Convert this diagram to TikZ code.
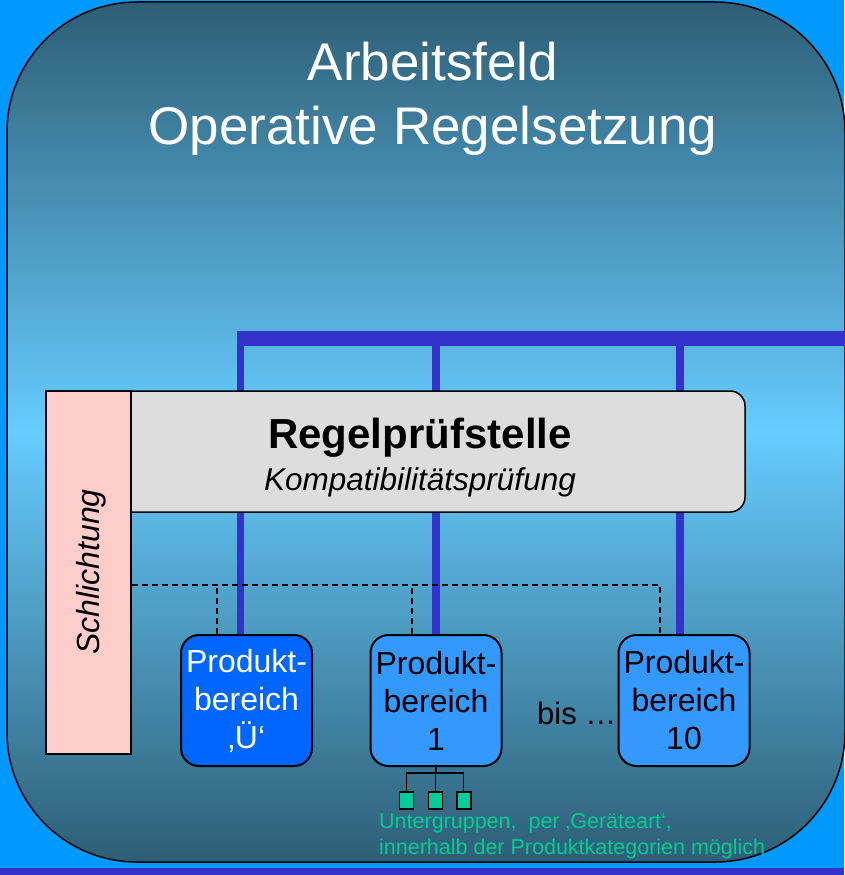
\documentclass[tikz,border=0pt]{standalone}
\usepackage{fontspec}
\setmainfont{Liberation Sans}
\usepackage{tikz}
\usetikzlibrary{calc}
\definecolor{skyblue}{HTML}{0099FF}
\definecolor{busblue}{HTML}{3333CC}
\definecolor{feldtop}{HTML}{2E5E75}
\definecolor{feldmid}{HTML}{66CCFF}
\definecolor{regelgray}{HTML}{DDDDDD}
\definecolor{schlichtpink}{HTML}{FFCCCC}
\definecolor{pbdark}{HTML}{0066FF}
\definecolor{pblight}{HTML}{3399FF}
\definecolor{grpgreen}{HTML}{00CC99}

\begin{document}
\begin{tikzpicture}[x=1pt,y=-1pt,
  bus/.style={draw=busblue, line width=15pt},
  drop/.style={draw=busblue, line width=7.5pt},
  dashline/.style={dash pattern=on 6pt off 4pt, line width=1.2pt},
  pbox/.style={draw=black, line width=2pt, rounded corners=18pt, minimum width=131pt,
    minimum height=131pt, inner sep=0pt, align=center, font=\fontsize{32}{38}\selectfont},
  grp/.style={draw=black, line width=1.5pt, fill=grpgreen, minimum width=14pt,
    minimum height=17pt, inner sep=0pt}]
\useasboundingbox (0,0) rectangle (844,875);
\fill[skyblue] (0,0) rectangle (844,875);
\fill[busblue] (0,868) rectangle (844,875);
% Arbeitsfeld
\draw[line width=1.5pt, rounded corners=130pt, top color=feldtop, bottom color=feldtop,
  middle color=feldmid] (7,2) rectangle (845,862);
\node[text=white, align=center, font=\fontsize{53}{64}\selectfont] (titel) at (433,99)
  {Arbeitsfeld\\Operative Regelsetzung};
% Produktbereiche
\node[pbox, fill=pbdark, text=white] (pbU) at (246.5,700.5) {Produkt-\\bereich\\‚Ü‘};
\node[pbox, fill=pblight] (pb1) at (436,700.5) {Produkt-\\bereich\\1};
\node[pbox, fill=pblight] (pb10) at (684,700.5) {Produkt-\\bereich\\10};
\node[anchor=base west, font=\fontsize{31}{38}\selectfont, inner sep=0pt] (bis) at (537,724) {bis …};
% Bus
\coordinate (busL) at (237,338);
\coordinate (busR) at (847,338);
\draw[drop] ([xshift=-6pt]pbU.north) -- ([xshift=-6pt]pbU.north |- busL);
\draw[drop] (pb1.north) -- (pb1.north |- busL);
\draw[drop] ([xshift=-4pt]pb10.north) -- ([xshift=-4pt]pb10.north |- busL);
\draw[bus] (busL) -- (busR);
% Regelpruefstelle und Schlichtung
\node[draw=black, line width=1.5pt, fill=regelgray, rounded corners=15pt, minimum width=645pt,
  minimum height=121pt] (regel) at (422.5,451.5) {};
\node[anchor=base, font=\fontsize{42}{50}\selectfont\bfseries, inner sep=0pt] (regeltxt)
  at (420,448) {Regelprüfstelle};
\node[anchor=base, font=\fontsize{31.5}{38}\selectfont\itshape, inner sep=0pt] (kompat)
  at (420,490) {Kompatibilitätsprüfung};
\node[draw=black, line width=1.5pt, fill=schlichtpink, minimum width=85pt, minimum height=363pt,
  inner sep=0pt] (schlicht) at (88.5,572.5) {};
\node[rotate=90, font=\fontsize{32}{38}\selectfont\itshape] (schlichttxt) at (91.5,572) {Schlichtung};
% Schlichtungswege
\coordinate (dash) at (schlicht.east |- 0,585);
\draw[dashline] (dash) -| ([xshift=-24pt]pb10.north);
\draw[dashline] ([xshift=-29.5pt]pbU.north) -- ([xshift=-29.5pt]pbU.north |- dash);
\draw[dashline] ([xshift=-24pt]pb1.north) -- ([xshift=-24pt]pb1.north |- dash);
% Untergruppen
\node[grp] (grpA) at (406.7,800.5) {};
\node[grp] (grpB) at (435.3,800.5) {};
\node[grp] (grpC) at (463.8,800.5) {};
\coordinate (fork) at (pb1.south |- 0,773);
\draw[line width=1.3pt] (pb1.south) -- (fork);
\draw[line width=1.3pt] (grpA.north) |- (fork) -| (grpC.north);
\draw[line width=1.3pt] (grpB.north) -- (grpB.north |- fork);
\node[anchor=north west, align=left, text=grpgreen, font=\fontsize{21.5}{26}\selectfont, inner sep=0pt]
  (grptxt) at (379,813) {Untergruppen,~ per ‚Geräteart‘,\\innerhalb der Produktkategorien möglich};
\end{tikzpicture}
\end{document}
